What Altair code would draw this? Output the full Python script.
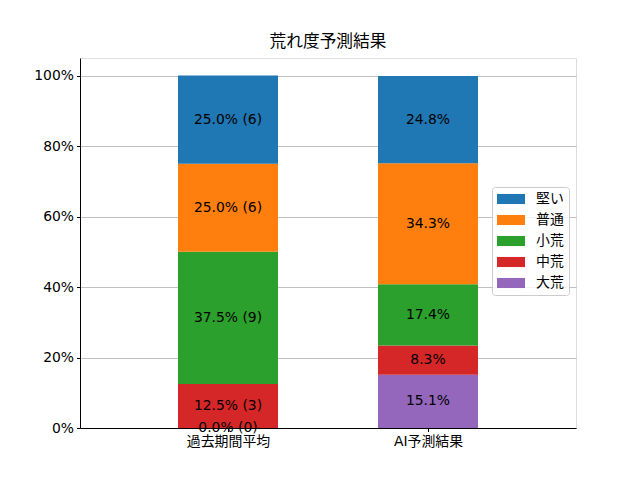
import altair as alt
import pandas as pd

categories = ["過去期間平均", "AI予測結果"]
cat_pos = [0, 1]
levels = ["大荒", "中荒", "小荒", "普通", "堅い"]  # bottom -> top
colors = ["#9467bd", "#d62728", "#2ca02c", "#ff7f0e", "#1f77b4"]
past_pct = [0.0, 12.5, 37.5, 25.0, 25.0]
past_cnt = [0, 3, 9, 6, 6]
ai_pct = [15.1, 8.3, 17.4, 34.3, 24.8]

rows = []
for i, lv in enumerate(levels):
    rows.append({"cat": categories[0], "pos": cat_pos[0], "level": lv, "ord": i,
                 "v": past_pct[i] / 100, "label": f"{past_pct[i]:.1f}% ({past_cnt[i]})"})
for i, lv in enumerate(levels):
    rows.append({"cat": categories[1], "pos": cat_pos[1], "level": lv, "ord": i,
                 "v": ai_pct[i] / 100, "label": f"{ai_pct[i]:.1f}%"})
df = pd.DataFrame(rows)

FONT = "DejaVu Sans, Noto Sans CJK JP, sans-serif"

label_expr = " : ".join(
    [f"datum.value == {p} ? '{c}'" for p, c in zip(cat_pos, categories)]) + " : ''"

base = alt.Chart(df).transform_stack(
    stack="v", groupby=["pos"], as_=["y0", "y1"],
    sort=[alt.SortField("ord", order="ascending")]
).transform_calculate(
    xl="datum.pos - 0.25", xr="datum.pos + 0.25", ym="(datum.y0 + datum.y1) / 2"
)

xscale = alt.Scale(domain=[-0.74, 1.74], nice=False, zero=False)
yscale = alt.Scale(domain=[0, 1.05], nice=False)

bars = base.mark_rect().encode(
    x=alt.X("xl:Q", scale=xscale, title=None,
            axis=alt.Axis(values=cat_pos, labelExpr=label_expr, grid=False,
                          tickSize=3.5, tickColor="black", domainColor="black",
                          labelFontSize=13.9, labelColor="black", labelFont=FONT,
                          labelPadding=3)),
    x2="xr:Q",
    y=alt.Y("y0:Q", scale=yscale, title=None,
            axis=alt.Axis(values=[0, 0.2, 0.4, 0.6, 0.8, 1.0], format=".0%",
                          grid=True, gridColor="#b0b0b0", gridWidth=0.8,
                          tickSize=3.5, tickColor="black", domainColor="black",
                          labelFontSize=13.9, labelColor="black", labelFont=FONT,
                          labelPadding=3)),
    y2="y1:Q",
    color=alt.Color("level:N",
                    scale=alt.Scale(domain=list(reversed(levels)),
                                    range=list(reversed(colors))),
                    legend=alt.Legend(
                        title=None, orient="none", legendX=412, legendY=129,
                        symbolType="M-2,-0.72L2,-0.72L2,0.72L-2,0.72Z",
                        symbolSize=196, symbolOffset=7, labelOffset=18,
                        rowPadding=7, padding=5, labelFontSize=13.9,
                        labelFont=FONT, labelColor="black",
                        strokeColor="#cccccc", fillColor="rgba(255,255,255,0.8)",
                        cornerRadius=3, symbolStrokeWidth=0)),
)

texts = base.mark_text(fontSize=13.9, font=FONT, color="black",
                       baseline="middle", align="center").encode(
    x=alt.X("pos:Q", scale=xscale),
    y=alt.Y("ym:Q", scale=yscale),
    text="label:N",
)

chart = alt.layer(bars, texts).properties(
    width=496, height=370,
    title=alt.TitleParams("荒れ度予測結果", fontSize=16.7, fontWeight="normal",
                          font=FONT, color="black", offset=7),
    autosize=alt.AutoSizeParams(type="none"),
    padding={"left": 72, "top": 50, "right": 40, "bottom": 40},
).configure_view(stroke="black", strokeWidth=1).configure(background="white")

chart.save("out.html", embed_options={"renderer": "svg", "actions": False})
